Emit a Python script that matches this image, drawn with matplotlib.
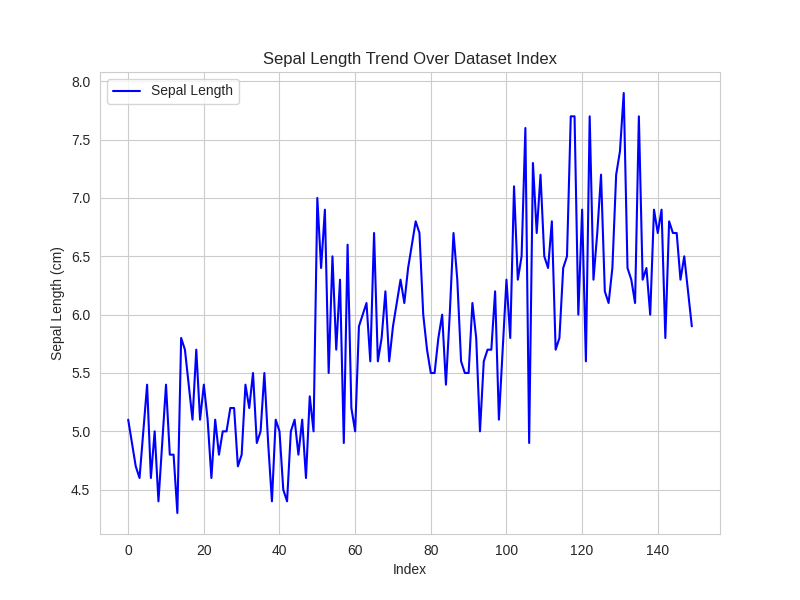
import matplotlib
matplotlib.use("Agg")
import matplotlib.pyplot as plt
import seaborn as sns

# iris sepal length, in dataset order
setosa = [5.1, 4.9, 4.7, 4.6, 5.0, 5.4, 4.6, 5.0, 4.4, 4.9,
          5.4, 4.8, 4.8, 4.3, 5.8, 5.7, 5.4, 5.1, 5.7, 5.1,
          5.4, 5.1, 4.6, 5.1, 4.8, 5.0, 5.0, 5.2, 5.2, 4.7,
          4.8, 5.4, 5.2, 5.5, 4.9, 5.0, 5.5, 4.9, 4.4, 5.1,
          5.0, 4.5, 4.4, 5.0, 5.1, 4.8, 5.1, 4.6, 5.3, 5.0]
versicolor = [7.0, 6.4, 6.9, 5.5, 6.5, 5.7, 6.3, 4.9, 6.6, 5.2,
              5.0, 5.9, 6.0, 6.1, 5.6, 6.7, 5.6, 5.8, 6.2, 5.6,
              5.9, 6.1, 6.3, 6.1, 6.4, 6.6, 6.8, 6.7, 6.0, 5.7,
              5.5, 5.5, 5.8, 6.0, 5.4, 6.0, 6.7, 6.3, 5.6, 5.5,
              5.5, 6.1, 5.8, 5.0, 5.6, 5.7, 5.7, 6.2, 5.1, 5.7]
virginica = [6.3, 5.8, 7.1, 6.3, 6.5, 7.6, 4.9, 7.3, 6.7, 7.2,
             6.5, 6.4, 6.8, 5.7, 5.8, 6.4, 6.5, 7.7, 7.7, 6.0,
             6.9, 5.6, 7.7, 6.3, 6.7, 7.2, 6.2, 6.1, 6.4, 7.2,
             7.4, 7.9, 6.4, 6.3, 6.1, 7.7, 6.3, 6.4, 6.0, 6.9,
             6.7, 6.9, 5.8, 6.8, 6.7, 6.7, 6.3, 6.5, 6.2, 5.9]
sepal_length = setosa + versicolor + virginica
index = list(range(len(sepal_length)))

sns.set_style("whitegrid")
plt.rcParams["font.family"] = ["Liberation Sans", "DejaVu Sans"]

fig, ax = plt.subplots(figsize=(8, 6), dpi=100)
ax.plot(index, sepal_length, color="blue", label="Sepal Length")
ax.set_title("Sepal Length Trend Over Dataset Index", fontsize=12)
ax.set_xlabel("Index")
ax.set_ylabel("Sepal Length (cm)")
ax.legend(loc="upper left")
fig.savefig("out.png")
